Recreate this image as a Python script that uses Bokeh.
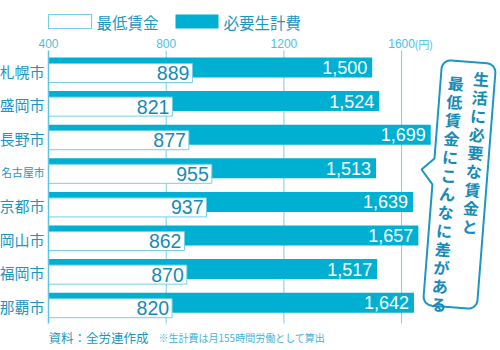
import numpy as np
from bokeh.plotting import figure
from bokeh.models import Range1d, ColumnDataSource
from bokeh.transform import dodge
from bokeh.core.properties import value, field
from bokeh.embed import file_html
from bokeh.resources import INLINE

# ---------------- data ----------------
cities = ["札幌市", "盛岡市", "長野市", "名古屋市", "京都市", "岡山市", "福岡市", "那覇市"]
min_wage = [889, 821, 877, 955, 937, 862, 870, 820]
living_cost = [1500, 1524, 1699, 1513, 1639, 1657, 1517, 1642]
ticks = [400, 800, 1200, 1600]
tick_labels = ["400", "800", "1200", "1600"]
unit_label = "(円)"
legend_labels = ["最低賃金", "必要生計費"]
source_note = "資料：全労連作成"
foot_note = "※生計費は月155時間労働として算出"
callout = ["生活に必要な賃金と", "最低賃金にこんなに差がある"]

# ---------------- styles ----------------
BLUE = "#00b0d2"
TEAL = "#1b97c2"
DARK = "#168bb6"
LIGHT = "#74cfe7"
TICKC = "#4cbfdd"
JP = value("Noto Sans CJK JP")
NUM = value("Liberation Sans")

k = 117.7 / 400.0          # px per yen
pitch, c0 = 33.6, 70.5     # row pitch and first row centre (px)
x_start = 400 - 48 / k
x_end = 400 + 452 / k

p = figure(width=500, height=350,
           x_range=Range1d(x_start, x_end),
           y_range=Range1d((350 - c0) / pitch, -c0 / pitch),
           output_backend="svg", toolbar_location=None, min_border=0,
           x_axis_location=None, y_axis_location=None,
           outline_line_color=None, background_fill_color="white",
           border_fill_color="white")
p.grid.visible = False
p.extra_x_ranges = {"px": Range1d(0, 500)}
p.extra_y_ranges = {"px": Range1d(350, 0)}

src = ColumnDataSource(dict(
    idx=list(range(len(cities))),
    city=cities,
    mw=min_wage,
    lc=living_cost,
    mw_s=[str(v) for v in min_wage],
    lc_s=[f"{v:,}" for v in living_cost],
    fs=["15px" if len(c) <= 3 else "10.8px" for c in cities],
))

# grid lines (behind bars)
p.segment(x0=ticks[1:], y0=50, x1=ticks[1:], y1=323, y_range_name="px",
          line_color=LIGHT, line_width=1)

# bars
p.hbar(y=dodge("idx", -0.104), left=400, right="lc", height=0.595,
       fill_color=BLUE, line_color=None, source=src)
p.hbar(y=dodge("idx", 0.06), left=400, right="mw", height=0.565,
       fill_color="white", line_color=LIGHT, line_width=1, source=src)

# left axis line
p.segment(x0=[400], y0=[50], x1=[400], y1=[323], y_range_name="px",
          line_color="#5cc6e2", line_width=1.5)

# value labels
p.text(x="mw", y=dodge("idx", 0.06), text="mw_s", x_offset=-3,
       text_align="right", text_baseline="middle", text_font=NUM,
       text_font_size="19.5px", text_color=DARK, source=src)
p.text(x="lc", y=dodge("idx", -0.104), text="lc_s", x_offset=-5,
       text_align="right", text_baseline="middle", text_font=NUM,
       text_font_size="18px", text_color="white", source=src)

# city labels
p.text(x=400, y="idx", text="city", x_offset=-4, text_align="right",
       text_baseline="middle", text_font=JP, text_font_size=field("fs"),
       text_color=TEAL, source=src)

# tick labels
p.text(x=ticks, y=[43] * len(ticks), y_range_name="px", text=tick_labels,
       text_align="center", text_baseline="middle", text_font=NUM,
       text_font_size="12px", text_color=TICKC)
p.text(x=[ticks[-1]], y=[43], y_range_name="px", text=[unit_label], x_offset=13,
       text_align="left", text_baseline="middle", text_font=JP,
       text_font_size="11px", text_color=TICKC)

# legend
p.quad(left=[48], right=[91], top=[14], bottom=[28], x_range_name="px",
       y_range_name="px", fill_color="white", line_color=LIGHT, line_width=1.2)
p.quad(left=[175], right=[218], top=[14], bottom=[28], x_range_name="px",
       y_range_name="px", fill_color=BLUE, line_color=None)
p.text(x=[96, 223], y=[21, 21], x_range_name="px", y_range_name="px",
       text=legend_labels, text_align="left", text_baseline="middle",
       text_font=JP, text_font_size="15.5px", text_color=TEAL)

# footer
p.text(x=[48], y=[337], x_range_name="px", y_range_name="px", text=[source_note],
       text_align="left", text_baseline="middle", text_font=JP,
       text_font_size="12.5px", text_color=TEAL)
p.text(x=[158], y=[337], x_range_name="px", y_range_name="px", text=[foot_note],
       text_align="left", text_baseline="middle", text_font=JP,
       text_font_size="10px", text_color="#3fb4d9")

# callout bubble
cx, cy, th = 459.0, 184.0, 0.0785
hw, hh, r = 27.0, 123.0, 9.0


def rot(dx, dy):
    dx = np.asarray(dx, float)
    dy = np.asarray(dy, float)
    return (cx + dx * np.cos(th) - dy * np.sin(th),
            cy + dx * np.sin(th) + dy * np.cos(th))


def arc(ccx, ccy, a0, a1, n=8):
    a = np.radians(np.linspace(a0, a1, n))
    return list(ccx + r * np.cos(a)), list(ccy + r * np.sin(a))


lx, ly = [], []
for (ax, ay, a0, a1) in [(-hw + r, -hh + r, 180, 270), (hw - r, -hh + r, 270, 360),
                         (hw - r, hh - r, 0, 90), (-hw + r, hh - r, 90, 180)]:
    xs, ys = arc(ax, ay, a0, a1)
    lx += xs
    ly += ys
# tail on left edge
lx += [-hw, -39.0, -hw]
ly += [2.0, -12.0, -24.0]
bx, by = rot(lx, ly)
p.patch(x=list(bx), y=list(by), x_range_name="px", y_range_name="px",
        fill_color="white", line_color=TEAL, line_width=2)

tx, ty = rot([13.4, -11.5], [-33.2, 9.9])
p.text(x=list(tx), y=list(ty), x_range_name="px", y_range_name="px",
       text=["\n".join(s) for s in callout], angle=-th,
       text_align="center", text_baseline="middle", text_font=JP,
       text_font_size="16px", text_font_style="bold", text_line_height=0.77,
       text_color=DARK)

open("out.html", "w").write(file_html(p, INLINE))
